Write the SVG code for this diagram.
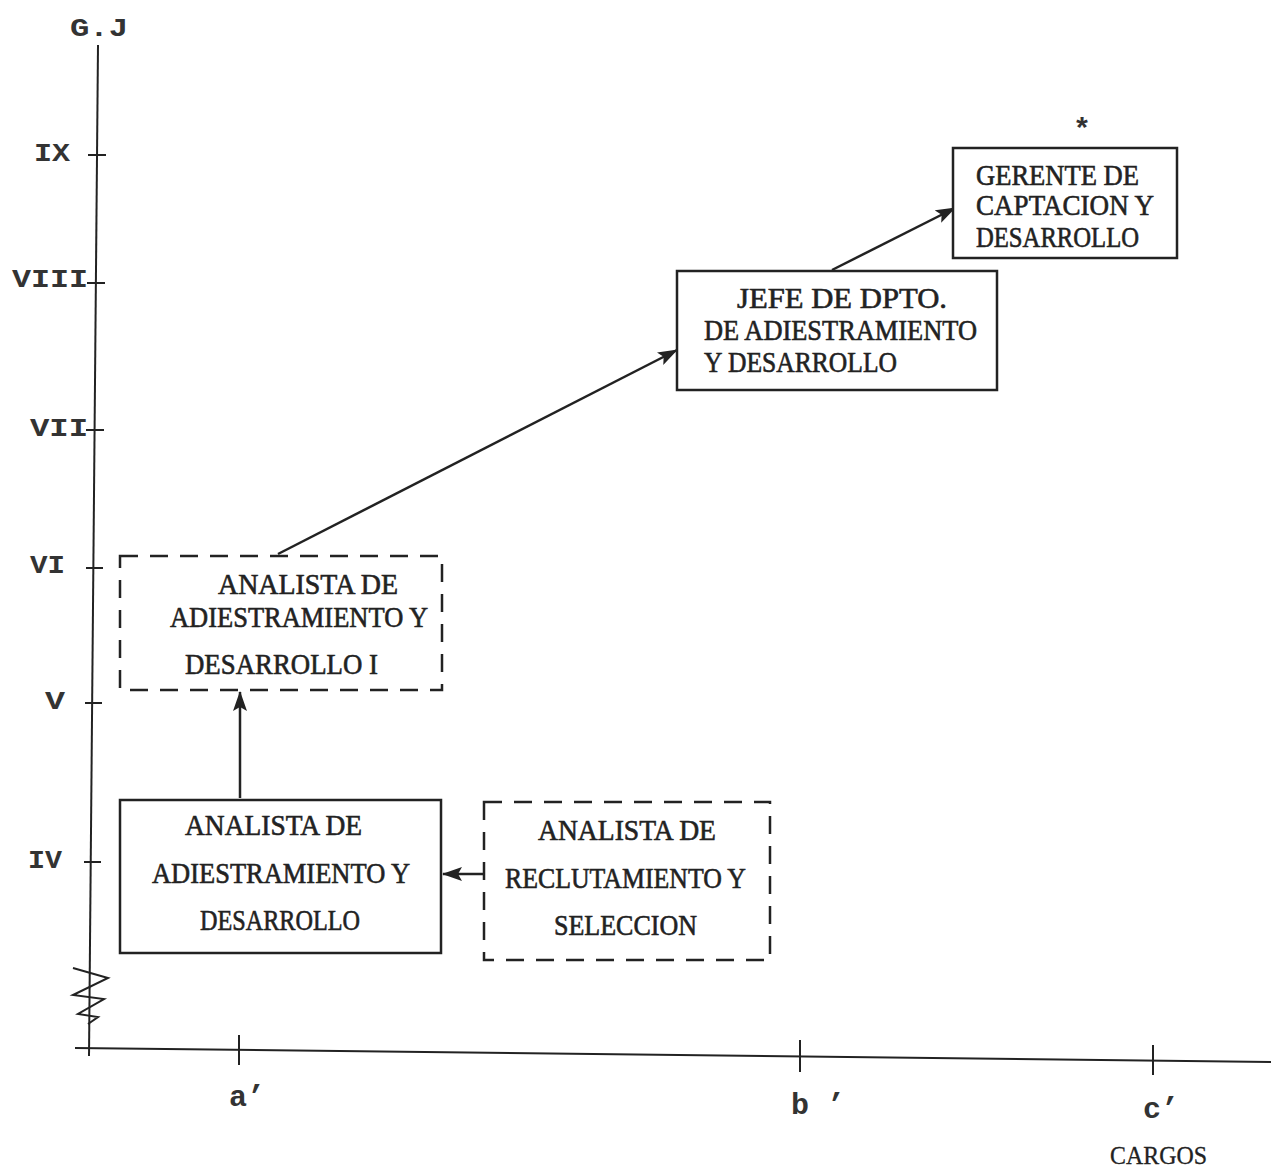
<svg xmlns="http://www.w3.org/2000/svg" width="1271" height="1167" viewBox="0 0 1271 1167">
<style>
.ax{stroke:#222;stroke-width:2;fill:none}
.box{fill:#fff;stroke:#222;stroke-width:2.5}
.dash{fill:#fff;stroke:#222;stroke-width:2.5;stroke-dasharray:18 12}
.t{font-family:"Liberation Serif",serif;font-size:29px;fill:#222;stroke:#222;stroke-width:0.6;dominant-baseline:central}
.lab{font-family:"Liberation Mono",monospace;font-weight:bold;font-size:26px;fill:#333;dominant-baseline:central}
.con{stroke:#222;stroke-width:2.5;fill:none;marker-end:url(#ah)}
</style>
<defs>
<marker id="ah" viewBox="0 0 20 14" refX="19" refY="7" markerWidth="20" markerHeight="14" markerUnits="userSpaceOnUse" orient="auto">
<path d="M0,0 L20,7 L0,14 L4,7 z" fill="#222"/>
</marker>
</defs>
<rect width="1271" height="1167" fill="#fff"/>
<g id="axes">
<line class="ax" x1="98" y1="45" x2="89" y2="1056"/>
<line class="ax" x1="75" y1="1048" x2="1271" y2="1062"/>
<line class="ax" x1="88" y1="155" x2="106" y2="155"/>
<line class="ax" x1="87" y1="283" x2="105" y2="283"/>
<line class="ax" x1="86" y1="430" x2="104" y2="430"/>
<line class="ax" x1="86" y1="568" x2="103" y2="568"/>
<line class="ax" x1="85" y1="703" x2="102" y2="703"/>
<line class="ax" x1="84" y1="862" x2="101" y2="862"/>
<line class="ax" x1="239" y1="1035" x2="239" y2="1065"/>
<line class="ax" x1="800" y1="1040" x2="800" y2="1072"/>
<line class="ax" x1="1153" y1="1045" x2="1153" y2="1075"/>
<polyline class="ax" points="73,968 108,978 73,995 104,999 78,1014 98,1017 88,1024"/>
<text class="lab" x="70" y="29" textLength="58" lengthAdjust="spacingAndGlyphs">G.J</text>
<text class="lab" x="34" y="154" textLength="36" lengthAdjust="spacingAndGlyphs">IX</text>
<text class="lab" x="12" y="280" textLength="76" lengthAdjust="spacingAndGlyphs">VIII</text>
<text class="lab" x="30" y="429" textLength="58" lengthAdjust="spacingAndGlyphs">VII</text>
<text class="lab" x="30" y="566" textLength="35" lengthAdjust="spacingAndGlyphs">VI</text>
<text class="lab" x="45" y="702" textLength="20" lengthAdjust="spacingAndGlyphs">V</text>
<text class="lab" x="28" y="861" textLength="34" lengthAdjust="spacingAndGlyphs">IV</text>
<text class="lab" x="229" y="1098" style="font-size:30px">a’</text>
<text class="lab" x="791" y="1106" style="font-size:30px">b ’</text>
<text class="lab" x="1143" y="1110" style="font-size:30px">c’</text>
<text class="t" x="1110" y="1155" textLength="97" lengthAdjust="spacingAndGlyphs" style="font-size:25px;stroke-width:0.3">CARGOS</text>
</g>
<g id="connectors">
<line class="con" x1="240" y1="798" x2="240" y2="692"/>
<line class="con" x1="484" y1="874" x2="443" y2="874"/>
<line class="con" x1="278" y1="554" x2="677" y2="350"/>
<line class="con" x1="832" y1="270" x2="955" y2="208"/>
</g>
<g id="gerente">
<rect class="box" x="953" y="148" width="224" height="110"/>
<text class="lab" x="1073" y="131" style="font-size:30px">*</text>
<text class="t" x="976" y="175" textLength="163" lengthAdjust="spacingAndGlyphs">GERENTE DE</text>
<text class="t" x="976" y="205" textLength="178" lengthAdjust="spacingAndGlyphs">CAPTACION Y</text>
<text class="t" x="976" y="237" textLength="163" lengthAdjust="spacingAndGlyphs">DESARROLLO</text>
</g>
<g id="jefe">
<rect class="box" x="677" y="271" width="320" height="119"/>
<text class="t" x="737" y="298" textLength="210" lengthAdjust="spacingAndGlyphs">JEFE DE DPTO.</text>
<text class="t" x="704" y="330" textLength="273" lengthAdjust="spacingAndGlyphs">DE ADIESTRAMIENTO</text>
<text class="t" x="704" y="362" textLength="193" lengthAdjust="spacingAndGlyphs">Y DESARROLLO</text>
</g>
<g id="analista1">
<rect class="dash" x="120" y="556" width="322" height="134"/>
<text class="t" x="218" y="584" textLength="180" lengthAdjust="spacingAndGlyphs">ANALISTA DE</text>
<text class="t" x="170" y="617" textLength="258" lengthAdjust="spacingAndGlyphs">ADIESTRAMIENTO Y</text>
<text class="t" x="185" y="664" textLength="193" lengthAdjust="spacingAndGlyphs">DESARROLLO I</text>
</g>
<g id="analista">
<rect class="box" x="120" y="800" width="321" height="153"/>
<text class="t" x="185" y="825" textLength="177" lengthAdjust="spacingAndGlyphs">ANALISTA DE</text>
<text class="t" x="152" y="873" textLength="258" lengthAdjust="spacingAndGlyphs">ADIESTRAMIENTO Y</text>
<text class="t" x="200" y="920" textLength="160" lengthAdjust="spacingAndGlyphs">DESARROLLO</text>
</g>
<g id="reclutamiento">
<rect class="dash" x="484" y="802" width="286" height="158"/>
<text class="t" x="538" y="830" textLength="178" lengthAdjust="spacingAndGlyphs">ANALISTA DE</text>
<text class="t" x="505" y="878" textLength="241" lengthAdjust="spacingAndGlyphs">RECLUTAMIENTO Y</text>
<text class="t" x="554" y="925" textLength="143" lengthAdjust="spacingAndGlyphs">SELECCION</text>
</g>
</svg>
